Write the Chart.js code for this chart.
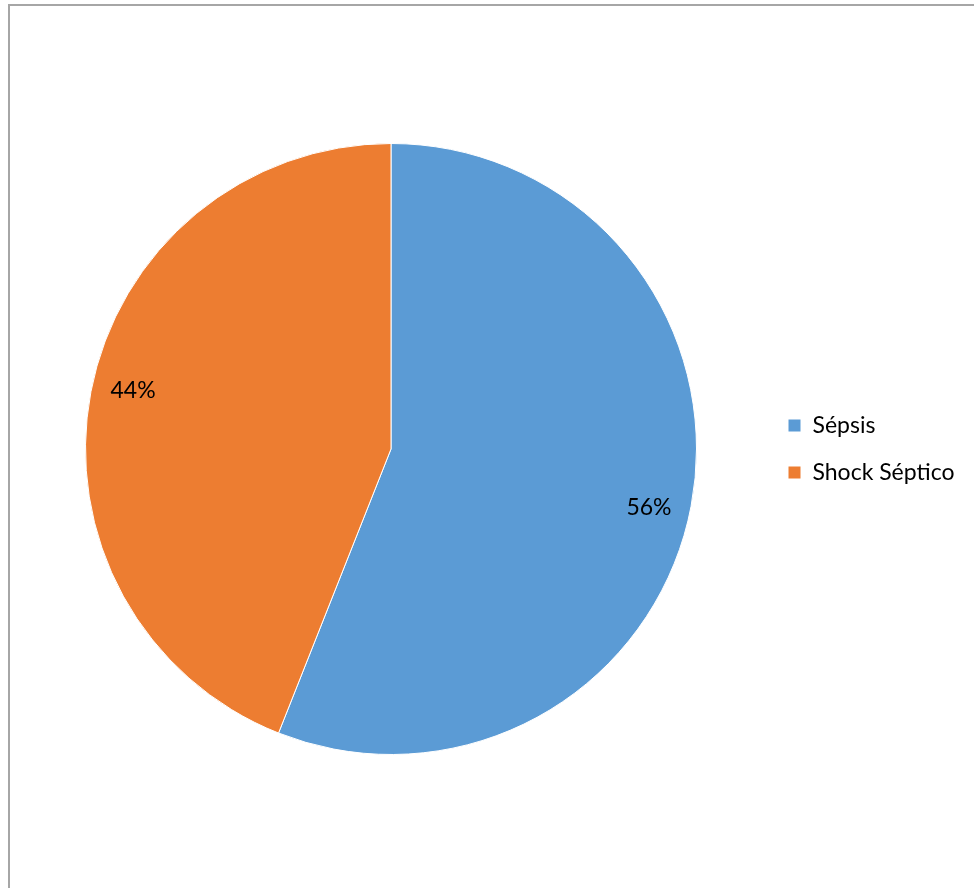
<!DOCTYPE html>
<html>
<head>
<meta charset="utf-8">
<script src="https://cdn.jsdelivr.net/npm/chart.js@4.4.1/dist/chart.umd.min.js"></script>
<style>
  html, body { margin: 0; padding: 0; background: #ffffff; }
  #wrap { position: relative; width: 974px; height: 888px; overflow: hidden; }
  #frame { position: absolute; left: 8px; top: 4px; width: 1000px; height: 1000px;
           border-left: 2px solid #a6a6a6; border-top: 2px solid #a6a6a6; box-sizing: border-box; }
  canvas { position: absolute; left: 0; top: 0; }
</style>
</head>
<body>
<div id="wrap">
  <div id="frame"></div>
  <canvas id="chart" width="974" height="888"></canvas>
</div>
<script>
// Categories and their shares (percent)
const categories = ['Sépsis', 'Shock Séptico'];
const shares = [56, 44];
const sliceColors = ['#5B9BD5', '#ED7D31'];

const FONT = 'Lato, "Open Sans", sans-serif';
const FONT_SIZE = 23;

// Writes each slice's percentage inside the slice, near its mid-angle
const sliceLabels = {
  id: 'sliceLabels',
  afterDatasetsDraw(chart) {
    const ctx = chart.ctx;
    const meta = chart.getDatasetMeta(0);
    const data = chart.data.datasets[0].data;
    ctx.save();
    ctx.font = FONT_SIZE + 'px ' + FONT;
    ctx.fillStyle = '#000000';
    ctx.textAlign = 'center';
    ctx.textBaseline = 'middle';
    meta.data.forEach((arc, i) => {
      const p = arc.getProps(['x', 'y', 'startAngle', 'endAngle', 'outerRadius'], true);
      const mid = (p.startAngle + p.endAngle) / 2 + 0.035;
      const r = p.outerRadius * 0.866;
      ctx.fillText(data[i] + '%', p.x + Math.cos(mid) * r, p.y + Math.sin(mid) * r);
    });
    ctx.restore();
  }
};

new Chart(document.getElementById('chart'), {
  type: 'pie',
  data: {
    labels: categories,
    datasets: [{
      data: shares,
      backgroundColor: sliceColors,
      borderColor: '#ffffff',
      borderWidth: 1
    }]
  },
  options: {
    responsive: false,
    animation: false,
    layout: { padding: { left: 18, right: 20, top: 143, bottom: 133 } },
    plugins: {
      tooltip: { enabled: false },
      legend: {
        position: 'right',
        align: 'center',
        maxWidth: 190,
        labels: {
          boxWidth: 13,
          boxHeight: 13,
          padding: 24,
          color: '#000000',
          font: { family: FONT, size: FONT_SIZE }
        }
      }
    }
  },
  plugins: [sliceLabels]
});
</script>
</body>
</html>
